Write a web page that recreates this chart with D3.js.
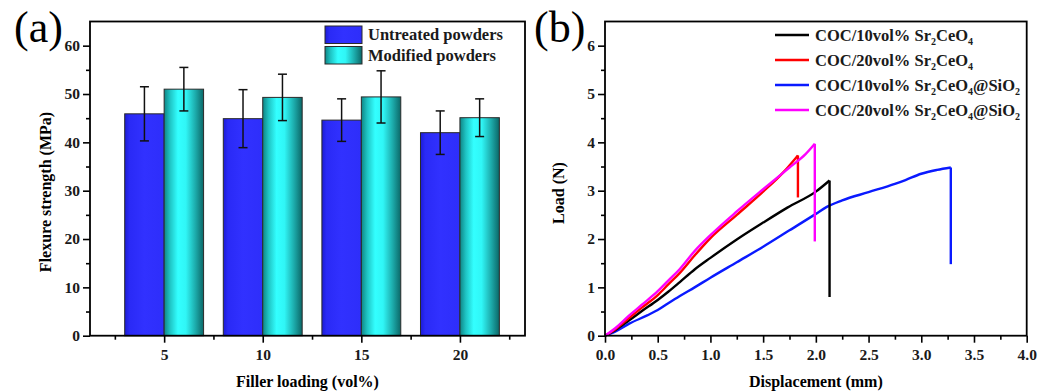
<!DOCTYPE html>
<html>
<head>
<meta charset="utf-8">
<script src="https://cdn.jsdelivr.net/npm/d3@7"></script>
<style>
  html, body { margin: 0; padding: 0; background: #fff; }
  svg { display: block; }
  text { font-family: "Liberation Serif", "Times New Roman", serif; }
</style>
</head>
<body>
<svg id="fig" width="1051" height="392"></svg>
<script>
// ---- Panel (a): flexure strength ----
const loadings = [5, 10, 15, 20];
const untreatedMean = [45.9, 44.9, 44.6, 42.0];
const untreatedErr  = [5.6, 6.0, 4.4, 4.5];
const modifiedMean  = [51.0, 49.3, 49.4, 45.1];
const modifiedErr   = [4.5, 4.8, 5.4, 3.9];
const strengthTicks = [0, 10, 20, 30, 40, 50, 60];
const barSeries = ["Untreated powders", "Modified powders"];

// ---- Panel (b): load–displacement curves (mm, N) ----
const coc10 = [[0,0],[0.1,0.12],[0.23,0.32],[0.35,0.51],[0.5,0.74],[0.6,0.91],[0.71,1.11],[0.85,1.37],[1.0,1.61],[1.25,1.99],[1.5,2.34],[1.73,2.65],[2.0,2.98],[2.13,3.21]];
const coc10Break = 0.80;
const coc20 = [[0,0],[0.1,0.14],[0.23,0.37],[0.35,0.58],[0.5,0.84],[0.6,1.06],[0.71,1.3],[0.85,1.66],[1.0,2.02],[1.25,2.5],[1.5,2.98],[1.7,3.4],[1.83,3.73]];
const coc20Break = 2.86;
const coc10Si = [[0,0],[0.1,0.09],[0.23,0.25],[0.4,0.42],[0.5,0.53],[0.6,0.67],[0.71,0.82],[0.85,1.0],[1.0,1.2],[1.25,1.52],[1.5,1.84],[1.75,2.18],[2.0,2.52],[2.1,2.66],[2.25,2.8],[2.5,2.97],[2.75,3.14],[2.85,3.22],[3.0,3.35],[3.15,3.43],[3.28,3.48]];
const coc10SiBreak = 1.48;
const coc20Si = [[0,0],[0.1,0.16],[0.23,0.42],[0.35,0.64],[0.5,0.92],[0.6,1.14],[0.71,1.38],[0.85,1.75],[1.0,2.08],[1.25,2.57],[1.5,3.03],[1.75,3.48],[1.9,3.75],[1.99,3.97]];
const coc20SiBreak = 1.95;
const dispTicks = [0, 0.5, 1.0, 1.5, 2.0, 2.5, 3.0, 3.5, 4.0];
const loadTicks = [0, 1, 2, 3, 4, 5, 6];

const svg = d3.select("#fig");
const defs = svg.append("defs");

// bar fills
const gBlue = defs.append("linearGradient").attr("id", "gBlue").attr("x1", "0").attr("x2", "1").attr("y1", "0").attr("y2", "0");
[[0, "#1c1cd6"], [0.12, "#2a2af6"], [0.5, "#3131ff"], [1, "#2e2efa"]].forEach(([o, c]) => gBlue.append("stop").attr("offset", o).attr("stop-color", c));
const gCyan = defs.append("linearGradient").attr("id", "gCyan").attr("x1", "0").attr("x2", "1").attr("y1", "0").attr("y2", "0");
[[0, "#0f8585"], [0.15, "#1fc4c4"], [0.35, "#33ffff"], [0.55, "#30f6f6"], [0.8, "#1ca9a9"], [1, "#0b6767"]].forEach(([o, c]) => gCyan.append("stop").attr("offset", o).attr("stop-color", c));

const plotTop = 21.5, plotBottom = 335.7;
const frameW = 1.8;

function frame(g, x0, x1) {
  g.append("rect").attr("x", x0).attr("y", plotTop).attr("width", x1 - x0).attr("height", plotBottom - plotTop)
    .attr("fill", "none").attr("stroke", "#000").attr("stroke-width", frameW);
}

// ======== Panel (a) ========
const aL = 90, aR = 525;
const xA = d3.scaleLinear().domain([1.24, 23.3]).range([aL, aR]);
const yA = d3.scaleLinear().domain([0, 65]).range([plotBottom, plotTop]);
const gA = svg.append("g");

const barW = 2; // in loading units
const groups = loadings.map((l, i) => ({ l, u: untreatedMean[i], ue: untreatedErr[i], m: modifiedMean[i], me: modifiedErr[i] }));

// bars
gA.selectAll("rect.u").data(groups).join("rect")
  .attr("x", d => xA(d.l - barW)).attr("width", d => xA(d.l) - xA(d.l - barW))
  .attr("y", d => yA(d.u)).attr("height", d => yA(0) - yA(d.u))
  .attr("fill", "url(#gBlue)").attr("stroke", "#2a2a2a").attr("stroke-width", 1);
gA.selectAll("rect.m").data(groups).join("rect")
  .attr("x", d => xA(d.l)).attr("width", d => xA(d.l + barW) - xA(d.l))
  .attr("y", d => yA(d.m)).attr("height", d => yA(0) - yA(d.m))
  .attr("fill", "url(#gCyan)").attr("stroke", "#2a2a2a").attr("stroke-width", 1);

// error bars
function errBar(cx, mean, err) {
  const cap = 4.5;
  const g = gA.append("g").attr("stroke", "#111").attr("stroke-width", 1.5);
  g.append("line").attr("x1", cx).attr("x2", cx).attr("y1", yA(mean + err)).attr("y2", yA(mean - err));
  g.append("line").attr("x1", cx - cap).attr("x2", cx + cap).attr("y1", yA(mean + err)).attr("y2", yA(mean + err));
  g.append("line").attr("x1", cx - cap).attr("x2", cx + cap).attr("y1", yA(mean - err)).attr("y2", yA(mean - err));
}
groups.forEach(d => {
  errBar(xA(d.l - barW / 2), d.u, d.ue);
  errBar(xA(d.l + barW / 2), d.m, d.me);
});

frame(gA, aL, aR);

// axes
gA.append("g").attr("transform", `translate(${aL},0)`)
  .call(d3.axisLeft(yA).tickValues(strengthTicks).tickSize(7).tickPadding(3));
gA.append("g").attr("transform", `translate(${aL},0)`)
  .call(d3.axisLeft(yA).tickValues(d3.range(5, 65, 10)).tickSize(4).tickFormat(""));
gA.append("g").attr("transform", `translate(0,${plotBottom})`)
  .call(d3.axisBottom(xA).tickValues(loadings).tickSize(7).tickPadding(6).tickFormat(d3.format("d")));
gA.append("g").attr("transform", `translate(0,${plotBottom})`)
  .call(d3.axisBottom(xA).tickValues([2.5, 7.5, 12.5, 17.5, 22.5]).tickSize(4).tickFormat(""));

// legend (a)
const legA = gA.append("g");
const legFills = ["url(#gBlue)", "url(#gCyan)"];
barSeries.forEach((name, i) => {
  const y0 = 26 + i * 20.5;
  legA.append("rect").attr("x", 325).attr("y", y0).attr("width", 37).attr("height", 17.5)
    .attr("fill", legFills[i]).attr("stroke", "#2a2a2a").attr("stroke-width", 1);
  legA.append("text").attr("x", 368).attr("y", y0 + 14).attr("font-size", 16.5).attr("font-weight", "bold")
    .attr("fill", "#1a1a1a").text(name);
});

// titles (a)
gA.append("text").attr("transform", "translate(51,192) rotate(-90)")
  .attr("text-anchor", "middle").attr("font-size", 16).attr("font-weight", "bold").text("Flexure strength (MPa)");
gA.append("text").attr("x", (aL + aR) / 2).attr("y", 387).attr("text-anchor", "middle")
  .attr("font-size", 16).attr("font-weight", "bold").text("Filler loading (vol%)");
gA.append("text").attr("x", 14).attr("y", 42).attr("font-size", 44).text("(a)");

// ======== Panel (b) ========
const bL = 605, bR = 1026.7;
const xB = d3.scaleLinear().domain([0, 4]).range([bL, bR]);
const yB = d3.scaleLinear().domain([0, 6.5]).range([plotBottom, plotTop]);
const gB = svg.append("g");

const curves = [
  { data: coc10, brk: coc10Break, color: "#000000", parts: ["COC/10vol% Sr", "2", "CeO", "4"] },
  { data: coc20, brk: coc20Break, color: "#ff0000", parts: ["COC/20vol% Sr", "2", "CeO", "4"] },
  { data: coc10Si, brk: coc10SiBreak, color: "#0a1aff", parts: ["COC/10vol% Sr", "2", "CeO", "4", "@SiO", "2"] },
  { data: coc20Si, brk: coc20SiBreak, color: "#ff00ff", parts: ["COC/20vol% Sr", "2", "CeO", "4", "@SiO", "2"] }
];
const lineGen = d3.line().x(d => xB(d[0])).y(d => yB(d[1])).curve(d3.curveMonotoneX);
// blue first, magenta last so it sits over the red curve
[2, 0, 1, 3].forEach(i => {
  const c = curves[i];
  gB.append("path").attr("d", lineGen(c.data)).attr("fill", "none")
    .attr("stroke", c.color).attr("stroke-width", 2.4).attr("stroke-linejoin", "round");
  const last = c.data[c.data.length - 1];
  gB.append("line").attr("x1", xB(last[0])).attr("x2", xB(last[0]))
    .attr("y1", yB(last[1])).attr("y2", yB(c.brk))
    .attr("stroke", c.color).attr("stroke-width", 2.4);
});

frame(gB, bL, bR);

gB.append("g").attr("transform", `translate(${bL},0)`)
  .call(d3.axisLeft(yB).tickValues(loadTicks).tickSize(7).tickPadding(3).tickFormat(d3.format("d")));
gB.append("g").attr("transform", `translate(${bL},0)`)
  .call(d3.axisLeft(yB).tickValues(d3.range(0.5, 6.5, 1)).tickSize(4).tickFormat(""));
gB.append("g").attr("transform", `translate(0,${plotBottom})`)
  .call(d3.axisBottom(xB).tickValues(dispTicks).tickSize(7).tickPadding(6).tickFormat(d3.format(".1f")));
gB.append("g").attr("transform", `translate(0,${plotBottom})`)
  .call(d3.axisBottom(xB).tickValues(d3.range(0.25, 4, 0.5)).tickSize(4).tickFormat(""));

// legend (b)
curves.forEach((c, i) => {
  const y0 = 35 + i * 25;
  gB.append("line").attr("x1", 775).attr("x2", 809).attr("y1", y0).attr("y2", y0)
    .attr("stroke", c.color).attr("stroke-width", 2.5);
  const t = gB.append("text").attr("x", 815).attr("y", y0 + 6).attr("font-size", 16.5)
    .attr("font-weight", "bold").attr("fill", "#1a1a1a");
  c.parts.forEach((p, k) => {
    const isSub = k % 2 === 1;
    t.append("tspan").attr("dy", k === 0 ? 0 : (isSub ? 4 : -4))
      .attr("font-size", isSub ? 10 : 16.5).text(p);
  });
});

gB.append("text").attr("transform", "translate(564,193) rotate(-90)")
  .attr("text-anchor", "middle").attr("font-size", 16).attr("font-weight", "bold").text("Load (N)");
gB.append("text").attr("x", (bL + bR) / 2).attr("y", 387).attr("text-anchor", "middle")
  .attr("font-size", 16).attr("font-weight", "bold").text("Displacement (mm)");
gB.append("text").attr("x", 534).attr("y", 42).attr("font-size", 44).text("(b)");

// common axis styling
svg.selectAll(".domain").remove();
svg.selectAll(".tick line").attr("stroke", "#000").attr("stroke-width", 1.6);
svg.selectAll(".tick text").attr("font-family", "Liberation Serif, serif").attr("font-weight", "bold")
  .attr("font-size", 15.5).attr("fill", "#1a1a1a");
</script>
</body>
</html>
